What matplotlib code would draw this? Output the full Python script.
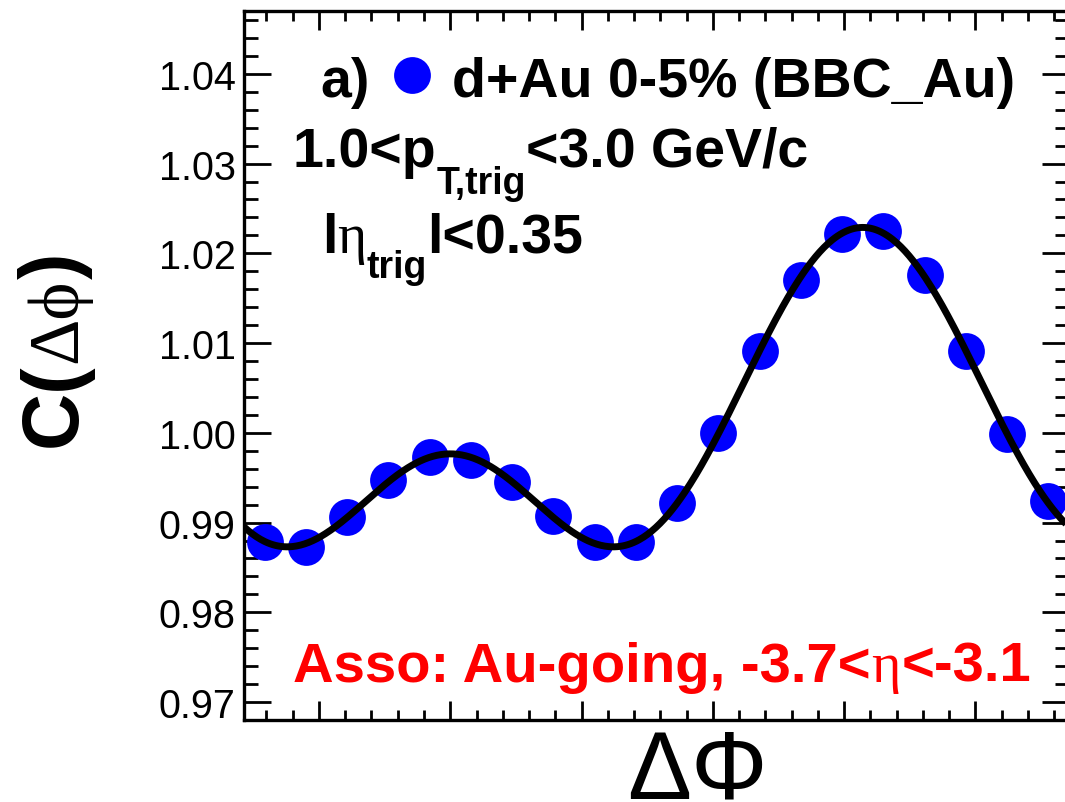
import numpy as np
import matplotlib
matplotlib.use("Agg")
import matplotlib.pyplot as plt
from matplotlib.ticker import MultipleLocator, FormatStrFormatter, NullFormatter

# --- data -----------------------------------------------------------------
n_bins = 20
dphi = -np.pi / 2 + (np.arange(n_bins) + 0.5) * (2 * np.pi / n_bins)
corr = [0.98783, 0.98727, 0.99061, 0.99477, 0.99736,
        0.99699, 0.99451, 0.99072, 0.98783, 0.98783,
        0.99217, 0.99997, 1.00910, 1.01705, 1.02217,
        1.02247, 1.01760, 1.00906, 0.99989, 0.99235]
y_ticks = [0.97, 0.98, 0.99, 1.00, 1.01, 1.02, 1.03, 1.04]

# --- figure ---------------------------------------------------------------
W, H = 1065, 803
fig = plt.figure(figsize=(W / 100, H / 100), dpi=100)
ax_l, ax_r, ax_t, ax_b = 244, 1069, 12, 721
ax = fig.add_axes([ax_l / W, 1 - ax_b / H, (ax_r - ax_l) / W, (ax_b - ax_t) / H])

xlo, xhi = -np.pi / 2, 3 * np.pi / 2
ax.set_xlim(xlo, xhi)
ax.set_ylim(0.968, 1.047)

# Fourier fit (n <= 4) to the correlation function
nmax = 4
basis = np.column_stack([np.cos(n * dphi) for n in range(nmax + 1)])
coef, *_ = np.linalg.lstsq(basis, np.asarray(corr), rcond=None)
xf = np.linspace(xlo, xhi, 600)
yf = np.column_stack([np.cos(n * xf) for n in range(nmax + 1)]) @ coef

ax.plot(dphi, corr, 'o', color='#0000ff', markersize=26.5, markeredgewidth=0, zorder=3)
ax.plot(xf, yf, '-', color='black', lw=5.0, zorder=4, solid_capstyle='butt')

# axes frame and ticks
for s in ax.spines.values():
    s.set_linewidth(2.4)
ax.xaxis.set_major_locator(MultipleLocator(1.0))
ax.xaxis.set_minor_locator(MultipleLocator(0.2))
ax.xaxis.set_major_formatter(NullFormatter())
ax.set_yticks(y_ticks)
ax.yaxis.set_minor_locator(MultipleLocator(0.002))
ax.yaxis.set_major_formatter(FormatStrFormatter('%.2f'))
ax.tick_params(axis='both', which='both', direction='in', width=2.0,
               top=True, right=True, color='black')
ax.tick_params(axis='x', which='major', length=14)
ax.tick_params(axis='x', which='minor', length=7.5)
ax.tick_params(axis='y', which='major', length=19.5, pad=6)
ax.tick_params(axis='y', which='minor', length=10)
for lab in ax.get_yticklabels():
    lab.set_fontfamily('Liberation Sans')
    lab.set_fontsize(28.5)

renderer = fig.canvas.get_renderer()


def draw_runs(x_px, y_px, runs, color='black', rotation=0):
    """Place a sequence of text pieces; (x_px, y_px) is the baseline start in pixels from top-left.
    Each run is (text, size, weight, family, baseline_shift, advance_shift)."""
    pos = 0.0
    for text, size, weight, family, dy, dx in runs:
        pos += dx
        if rotation == 0:
            xx, yy = x_px + pos, y_px + dy
        else:
            xx, yy = x_px + dy, y_px - pos
        t = fig.text(xx / W, 1 - yy / H, text, fontsize=size, fontweight=weight,
                     family=family, color=color, ha='left', va='baseline',
                     rotation=rotation, rotation_mode='anchor')
        bb = t.get_window_extent(renderer)
        pos += bb.width if rotation == 0 else bb.height
    return pos


SANS = ['Liberation Sans', 'DejaVu Sans']
SERIF = ['Liberation Serif', 'DejaVu Serif']
fs = 40
sub = 27

# headline with marker
draw_runs(320, 97, [("a)", fs, 'bold', SANS, 0, 0)])
fig.lines.append(plt.Line2D([411.7 / W], [1 - 76 / H], marker='o', color='#0000ff',
                            markersize=26.5, markeredgewidth=0, transform=fig.transFigure))
draw_runs(452, 97, [("d+Au 0-5% (BBC_Au)", fs, 'bold', SANS, 0, 0)])

draw_runs(293, 167, [("1.0<p", fs, 'bold', SANS, 0, 0),
                     ("T,trig", sub, 'bold', SANS, 27, 0),
                     ("<3.0 GeV/c", fs, 'bold', SANS, 0, 0)])

draw_runs(322, 253, [("l", fs, 'bold', SANS, 0, 0),
                     ("η", fs, 'normal', SERIF, 0, 0),
                     ("trig", sub, 'bold', SANS, 25, 0),
                     ("l<0.35", fs, 'bold', SANS, 0, 0)])

draw_runs(293, 682, [("Asso: Au-going, -3.7<", 40.5, 'bold', SANS, 0, 0),
                     ("η", 40.5, 'normal', SERIF, 0, 1),
                     ("<-3.1", 40.5, 'bold', SANS, 0, 1)], color='#ff0000')

# axis titles
draw_runs(76, 447, [("C(", 57, 'bold', SANS, 0, 0),
                    ("Δϕ", 52, 'normal', SERIF, 0, 0),
                    (")", 57, 'bold', SANS, 0, 0)], rotation=90)
fig.text(697 / W, 1 - 799 / H, "ΔΦ", fontsize=69, family=SANS, ha='center', va='baseline')

fig.savefig("out.png", dpi=100)
